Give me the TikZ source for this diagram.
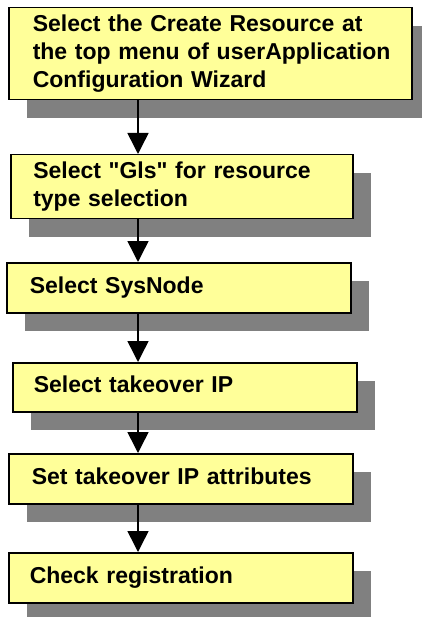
\documentclass[tikz,border=0pt]{standalone}
\usepackage{fontspec}
\setmainfont{Liberation Sans}[Ligatures=TeXOff]
\usetikzlibrary{arrows.meta,shadows}
\definecolor{boxfill}{RGB}{255,255,153}
\definecolor{shadowgray}{RGB}{128,128,128}
\begin{document}
\begin{tikzpicture}[x=1pt,y=-1pt,
  stepbox/.style={draw=black, line width=1.5pt, fill=boxfill, anchor=north west,
    inner ysep=0pt, align=left, font=\fontsize{23}{28}\selectfont\bfseries,
    drop shadow={shadow xshift=18pt, shadow yshift=-18pt, fill=shadowgray, opacity=1}},
  arr/.style={line width=1.5pt, -{Triangle[length=21pt,width=21pt]}}]
\useasboundingbox (0,0) rectangle (422,617);
\node[stepbox, minimum width=403pt, minimum height=92pt, inner xsep=24pt, text width=355pt] (b1) at (8,7)
  {\makebox[355pt][s]{Select the Create Resource at}\strut\\
   \makebox[355pt][s]{the top menu of userApplication}\strut\\
   Configuration Wizard\strut};
\node[stepbox, minimum width=342pt, minimum height=64pt, inner xsep=22.5pt, text width=297pt] (b2) at (10,154)
  {\makebox[297pt][s]{Select "Gls" for resource}\strut\\
   type selection\strut};
\node[stepbox, minimum width=344pt, minimum height=50pt, inner xsep=23pt, text width=298pt] (b3) at (6,262)
  {Select SysNode\strut};
\node[stepbox, minimum width=344pt, minimum height=49pt, inner xsep=21pt, text width=302pt] (b4) at (12,362)
  {Select takeover IP\strut};
\node[stepbox, minimum width=344pt, minimum height=50pt, inner xsep=23pt, text width=298pt] (b5) at (8,453)
  {Set takeover IP attributes\strut};
\node[stepbox, minimum width=344pt, minimum height=50pt, inner xsep=21pt, text width=302pt] (b6) at (8,552)
  {Check registration\strut};
\coordinate (ax) at (138,0);
\foreach \a/\b in {b1/b2,b2/b3,b3/b4,b4/b5,b5/b6}
  \draw[arr] (\a.south -| ax) -- (\b.north -| ax);
\end{tikzpicture}
\end{document}
